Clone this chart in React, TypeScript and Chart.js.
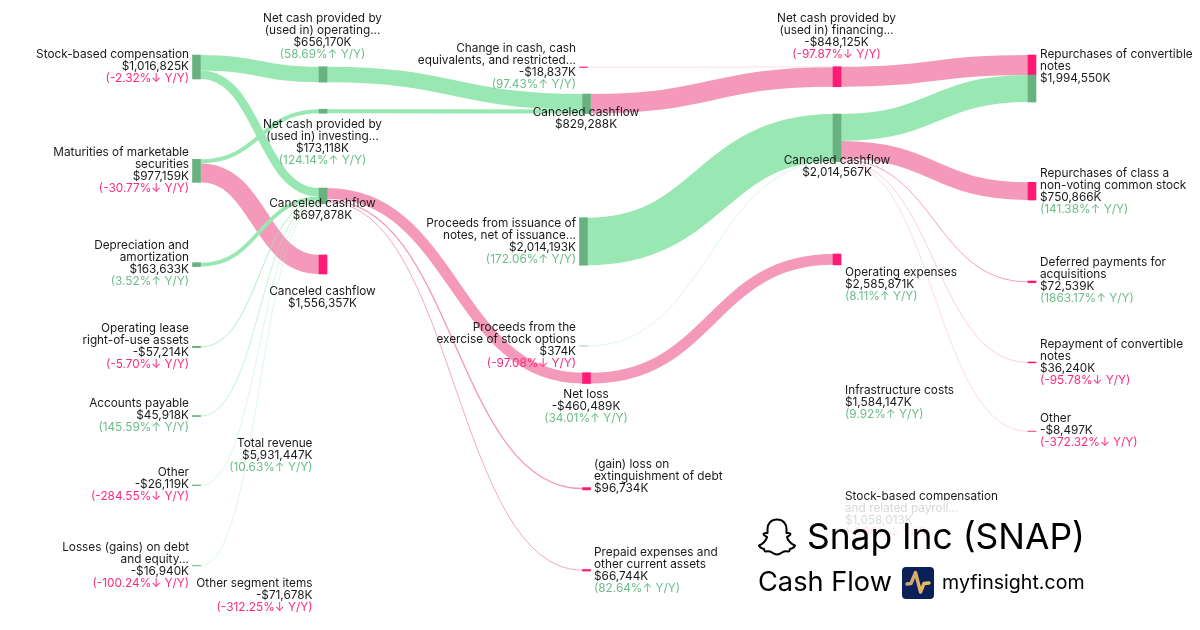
import React, { useEffect, useRef } from "react";
import { Chart, registerables } from "chart.js";

Chart.register(...registerables);

// ---------- data (USD thousands) ----------
const nodeIds = [
  "stock", "maturities", "depreciation", "lease", "payable", "otherOp", "losses",
  "netOp", "netInv", "cancel697", "cancel1556",
  "change", "proceeds", "exercise", "cancel829", "netLoss", "gainLoss", "prepaid",
  "netFin", "cancel2014", "opex",
  "repurchFin", "repurchCash", "classA", "deferred", "repayment", "otherFin",
];
const linkSources = [
  "stock", "stock", "maturities", "maturities", "depreciation", "lease", "payable", "otherOp", "losses",
  "netOp", "netInv", "change", "cancel829",
  "cancel697", "cancel697", "cancel697",
  "proceeds", "exercise",
  "netLoss", "netFin",
  "cancel2014", "cancel2014", "cancel2014", "cancel2014", "cancel2014",
];
const linkTargets = [
  "netOp", "cancel697", "netInv", "cancel1556", "cancel697", "cancel697", "cancel697", "cancel697", "cancel697",
  "cancel829", "cancel829", "netFin", "netFin",
  "netLoss", "gainLoss", "prepaid",
  "cancel2014", "cancel2014",
  "opex", "repurchFin",
  "repurchCash", "classA", "deferred", "repayment", "otherFin",
];
const linkValues = [
  656170, 360655, 173118, 804041, 163633, 57214, 45918, 26119, 16940,
  656170, 173118, 18837, 829288,
  460489, 96734, 66744,
  2014193, 374,
  460489, 848125,
  1146425, 750866, 72539, 36240, 8497,
];
const positiveLinks = [
  true, true, true, false, true, true, true, true, true,
  true, true, false, false,
  false, false, false,
  true, true,
  false, false,
  true, false, false, false, false,
];
const positiveNodes = [
  true, true, true, true, true, true, true,
  true, true, true, false,
  false, true, true, true, false, false, false,
  false, true, false,
  false, true, false, false, false, false,
];

const labelLines: string[][] = [
  ["Stock-based compensation", "$1,016,825K"],
  ["Net cash provided by", "(used in) operating...", "$656,170K"],
  ["Net cash provided by", "(used in) investing...", "$173,118K"],
  ["Canceled cashflow", "$697,878K"],
  ["Maturities of marketable", "securities", "$977,159K"],
  ["Depreciation and", "amortization", "$163,633K"],
  ["Canceled cashflow", "$1,556,357K"],
  ["Operating lease", "right-of-use assets", "-$57,214K"],
  ["Accounts payable", "$45,918K"],
  ["Other", "-$26,119K"],
  ["Losses (gains) on debt", "and equity...", "-$16,940K"],
  ["Total revenue", "$5,931,447K"],
  ["Other segment items", "-$71,678K"],
  ["Change in cash, cash", "equivalents, and restricted...", "-$18,837K"],
  ["Canceled cashflow", "$829,288K"],
  ["Proceeds from issuance of", "notes, net of issuance...", "$2,014,193K"],
  ["Proceeds from the", "exercise of stock options", "$374K"],
  ["Net loss", "-$460,489K"],
  ["(gain) loss on", "extinguishment of debt", "$96,734K"],
  ["Prepaid expenses and", "other current assets", "$66,744K"],
  ["Net cash provided by", "(used in) financing...", "-$848,125K"],
  ["Canceled cashflow", "$2,014,567K"],
  ["Operating expenses", "$2,585,871K"],
  ["Infrastructure costs", "$1,584,147K"],
  ["Stock-based compensation", "and related payroll...", "$1,058,013K"],
  ["Repurchases of convertible", "notes", "$1,994,550K"],
  ["Repurchases of class a", "non-voting common stock", "$750,866K"],
  ["Deferred payments for", "acquisitions", "$72,539K"],
  ["Repayment of convertible", "notes", "$36,240K"],
  ["Other", "-$8,497K"],
];
const labelChanges: (string | null)[] = [
  "(-2.32%↓ Y/Y)", "(58.69%↑ Y/Y)", "(124.14%↑ Y/Y)", null, "(-30.77%↓ Y/Y)", "(3.52%↑ Y/Y)", null,
  "(-5.70%↓ Y/Y)", "(145.59%↑ Y/Y)", "(-284.55%↓ Y/Y)", "(-100.24%↓ Y/Y)", "(10.63%↑ Y/Y)", "(-312.25%↓ Y/Y)",
  "(97.43%↑ Y/Y)", null, "(172.06%↑ Y/Y)", "(-97.08%↓ Y/Y)", "(34.01%↑ Y/Y)", null, "(82.64%↑ Y/Y)",
  "(-97.87%↓ Y/Y)", null, "(8.11%↑ Y/Y)", "(9.92%↑ Y/Y)", "(-1.96%↓ Y/Y)",
  null, "(141.38%↑ Y/Y)", "(1863.17%↑ Y/Y)", "(-95.78%↓ Y/Y)", "(-372.32%↓ Y/Y)",
];

const titleText = "Snap Inc (SNAP)";
const subtitleText = "Cash Flow";
const siteText = "myfinsight.com";

// ---------- layout (kept apart from the values) ----------
const PX_PER_M = 0.0236; // drawn thickness of one USD million
const Y_MAX_M = 630 / PX_PER_M; // y axis range, USD millions
const NODE_W = 8;
const THIN_LINK = 3; // links under this many pixels are drawn lighter
const THIN_FACTOR = 0.55;
const MIN_LINK_W = 0.35;

// node column centre on the x axis, and node top on the y axis (USD millions from the top)
const nodeCentres: Record<string, number> = {
  stock: 196.5, maturities: 196.5, depreciation: 196.5, lease: 196.5, payable: 196.5, otherOp: 196.5, losses: 196.5,
  netOp: 323, netInv: 323, cancel697: 323, cancel1556: 323,
  change: 583.5, proceeds: 583.5, exercise: 583.5,
  cancel829: 586.5, netLoss: 586.5, gainLoss: 586.5, prepaid: 586.5,
  netFin: 837, cancel2014: 837, opex: 837,
  repurchFin: 1032, repurchCash: 1032, classA: 1032, deferred: 1032, repayment: 1032, otherFin: 1032,
};
const nodeTops: Record<string, number> = {
  stock: 2331, maturities: 6750, depreciation: 11131, lease: 14674, payable: 17606, otherOp: 20551, losses: 23962,
  netOp: 2826, netInv: 4627, cancel697: 7966, cancel1556: 10805,
  change: 2840, proceeds: 9225, exercise: 14661,
  cancel829: 3983, netLoss: 15792, gainLoss: 20661, prepaid: 24131,
  netFin: 2826, cancel2014: 4831, opex: 10763,
  repurchFin: 2331, repurchCash: 3178, classA: 7725, deferred: 11907, repayment: 15339, otherFin: 18271,
};
// label anchor: x, alignment, centre of first line
const labelAnchors: [number, CanvasTextAlign, number][] = [
  [189, "right", 54], [322.5, "center", 18], [322.5, "center", 124], [322.5, "center", 203],
  [189, "right", 152], [189, "right", 245], [322.5, "center", 291], [189, "right", 328],
  [189, "right", 403], [189, "right", 472], [189, "right", 547], [312.5, "right", 443],
  [312.5, "right", 583], [576, "right", 48], [586, "center", 112], [576, "right", 223],
  [576, "right", 327], [586, "center", 394], [594, "left", 464], [594, "left", 552],
  [836.5, "center", 18], [837, "center", 160], [845, "left", 272], [845, "left", 390],
  [845, "left", 496], [1040, "left", 54], [1040, "left", 173], [1040, "left", 262],
  [1040, "left", 344], [1040, "left", 418],
];

const GREEN_LINK = "#99e8b3";
const PINK_LINK = "#f599bb";
const GREEN_NODE = "#68b282";
const PINK_NODE = "#ff1a75";
const GREEN_TEXT = "#6dbd8a";
const PINK_TEXT = "#ff2a7f";
const INK = "#1a1a1a";
const FONT = "Inter, 'Noto Sans', sans-serif";

const GHOST =
  "M19 1 C13 1 9.5 5 9.5 10.5 L9.5 14.5 C7.5 14.5 6 14 5.5 15.5 C5.5 17 8 17.5 9 18.5 C8.5 22 4 26 1 27 C1.5 29 4 30 6 30.5 C6.5 32 6.5 33 7.5 33 C10 32.5 12 32.5 14 34 C16 35.5 17.5 36 19 36 C20.5 36 22 35.5 24 34 C26 32.5 28 32.5 30.5 33 C31.5 33 31.5 32 32 30.5 C34 30 36.5 29 37 27 C34 26 29.5 22 29 18.5 C30 17.5 32.5 17 32.5 15.5 C32 14 30.5 14.5 28.5 14.5 L28.5 10.5 C28.5 5 25 1 19 1 Z";

function nodeSize(id: string): number {
  let incoming = 0;
  let outgoing = 0;
  linkValues.forEach((v, i) => {
    if (linkTargets[i] === id) incoming += v;
    if (linkSources[i] === id) outgoing += v;
  });
  return Math.max(incoming, outgoing) / 1000;
}

const sankeyLinks = {
  id: "sankeyLinks",
  beforeDatasetsDraw(chart: any) {
    const { ctx, scales } = chart;
    const x = scales.x;
    const y = scales.y;
    const usedOut: Record<string, number> = {};
    const usedIn: Record<string, number> = {};
    const px = (v: number) => y.getPixelForValue(v);
    ctx.save();
    ctx.lineCap = "butt";
    linkValues.forEach((value, i) => {
      const s = linkSources[i];
      const t = linkTargets[i];
      const m = value / 1000;
      // centre of the ribbon at each end, stacked in link order
      const s0 = nodeTops[s] + (usedOut[s] || 0) + m / 2;
      const t0 = nodeTops[t] + (usedIn[t] || 0) + m / 2;
      usedOut[s] = (usedOut[s] || 0) + m;
      usedIn[t] = (usedIn[t] || 0) + m;
      const x0 = x.getPixelForValue(nodeCentres[s]) + NODE_W / 2;
      const x1 = x.getPixelForValue(nodeCentres[t]) - NODE_W / 2;
      const xm = (x0 + x1) / 2;
      const w = px(m) - px(0);
      ctx.beginPath();
      ctx.moveTo(x0, px(s0));
      ctx.bezierCurveTo(xm, px(s0), xm, px(t0), x1, px(t0));
      ctx.lineWidth = w < THIN_LINK ? Math.max(w * THIN_FACTOR, MIN_LINK_W) : w;
      ctx.strokeStyle = positiveLinks[i] ? GREEN_LINK : PINK_LINK;
      ctx.stroke();
    });
    ctx.restore();
  },
};

const sankeyText = {
  id: "sankeyText",
  afterDatasetsDraw(chart: any) {
    const { ctx } = chart;
    ctx.save();
    ctx.textBaseline = "middle";
    ctx.font = `11.8px ${FONT}`;
    labelLines.forEach((lines, i) => {
      const [lx, align, ly] = labelAnchors[i];
      ctx.textAlign = align;
      ctx.fillStyle = INK;
      lines.forEach((line, k) => ctx.fillText(line, lx, ly + k * 12));
      const change = labelChanges[i];
      if (change) {
        ctx.fillStyle = change.includes("↑") ? GREEN_TEXT : PINK_TEXT;
        ctx.fillText(change, lx, ly + lines.length * 12);
      }
    });

    // brand block with the white wash that fades what is behind it
    const wash = ctx.createLinearGradient(0, 500, 0, 536);
    wash.addColorStop(0, "rgba(255,255,255,0.8)");
    wash.addColorStop(1, "rgba(255,255,255,0.86)");
    ctx.fillStyle = wash;
    ctx.fillRect(750, 500, 350, 40);

    ctx.textAlign = "left";
    ctx.fillStyle = "#000000";
    ctx.font = `35.4px ${FONT}`;
    ctx.fillText(titleText, 807, 538);
    ctx.font = `27.2px ${FONT}`;
    ctx.fillText(subtitleText, 758, 583);
    ctx.font = `19.6px ${FONT}`;
    ctx.fillText(siteText, 942, 583);

    ctx.save();
    ctx.translate(758, 518.5);
    ctx.lineWidth = 2;
    ctx.lineJoin = "round";
    ctx.strokeStyle = "#000000";
    ctx.stroke(new Path2D(GHOST));
    ctx.restore();

    ctx.beginPath();
    ctx.roundRect(902, 567, 32, 32, 4);
    ctx.fillStyle = "#0b1f58";
    ctx.fill();
    const pulse = ctx.createLinearGradient(906, 0, 930, 0);
    pulse.addColorStop(0, "#c9a074");
    pulse.addColorStop(1, "#f0c060");
    ctx.beginPath();
    ctx.moveTo(907, 584);
    ctx.lineTo(911, 583.5);
    ctx.lineTo(915.5, 572.5);
    ctx.lineTo(920.5, 592);
    ctx.lineTo(924, 583.5);
    ctx.lineTo(929, 583);
    ctx.lineWidth = 3.4;
    ctx.lineJoin = "round";
    ctx.lineCap = "round";
    ctx.strokeStyle = pulse;
    ctx.stroke();
    ctx.restore();
  },
};

export default function App() {
  const ref = useRef<HTMLCanvasElement | null>(null);
  useEffect(() => {
    document.body.style.margin = "0";
    const chart = new Chart(ref.current as HTMLCanvasElement, {
      type: "bar",
      data: {
        datasets: [
          {
            data: nodeIds.map((id) => ({
              x: nodeCentres[id],
              y: [nodeTops[id], nodeTops[id] + nodeSize(id)],
            })) as any,
            backgroundColor: positiveNodes.map((p) => (p ? GREEN_NODE : PINK_NODE)),
            barThickness: NODE_W,
            borderWidth: 0,
            grouped: false,
          } as any,
        ],
      },
      options: {
        responsive: false,
        animation: false,
        devicePixelRatio: 1,
        layout: { padding: 0 },
        plugins: { legend: { display: false }, tooltip: { enabled: false }, title: { display: false } },
        scales: {
          x: { type: "linear", min: 0, max: 1200, display: false, offset: false, grid: { display: false } },
          y: { type: "linear", min: 0, max: Y_MAX_M, reverse: true, display: false, grid: { display: false } },
        },
      } as any,
      plugins: [sankeyLinks, sankeyText],
    });
    return () => chart.destroy();
  }, []);
  return (
    <div style={{ position: "fixed", left: 0, top: 0, width: 1200, height: 630, background: "#ffffff" }}>
      <canvas ref={ref} width={1200} height={630} style={{ display: "block" }} />
    </div>
  );
}
